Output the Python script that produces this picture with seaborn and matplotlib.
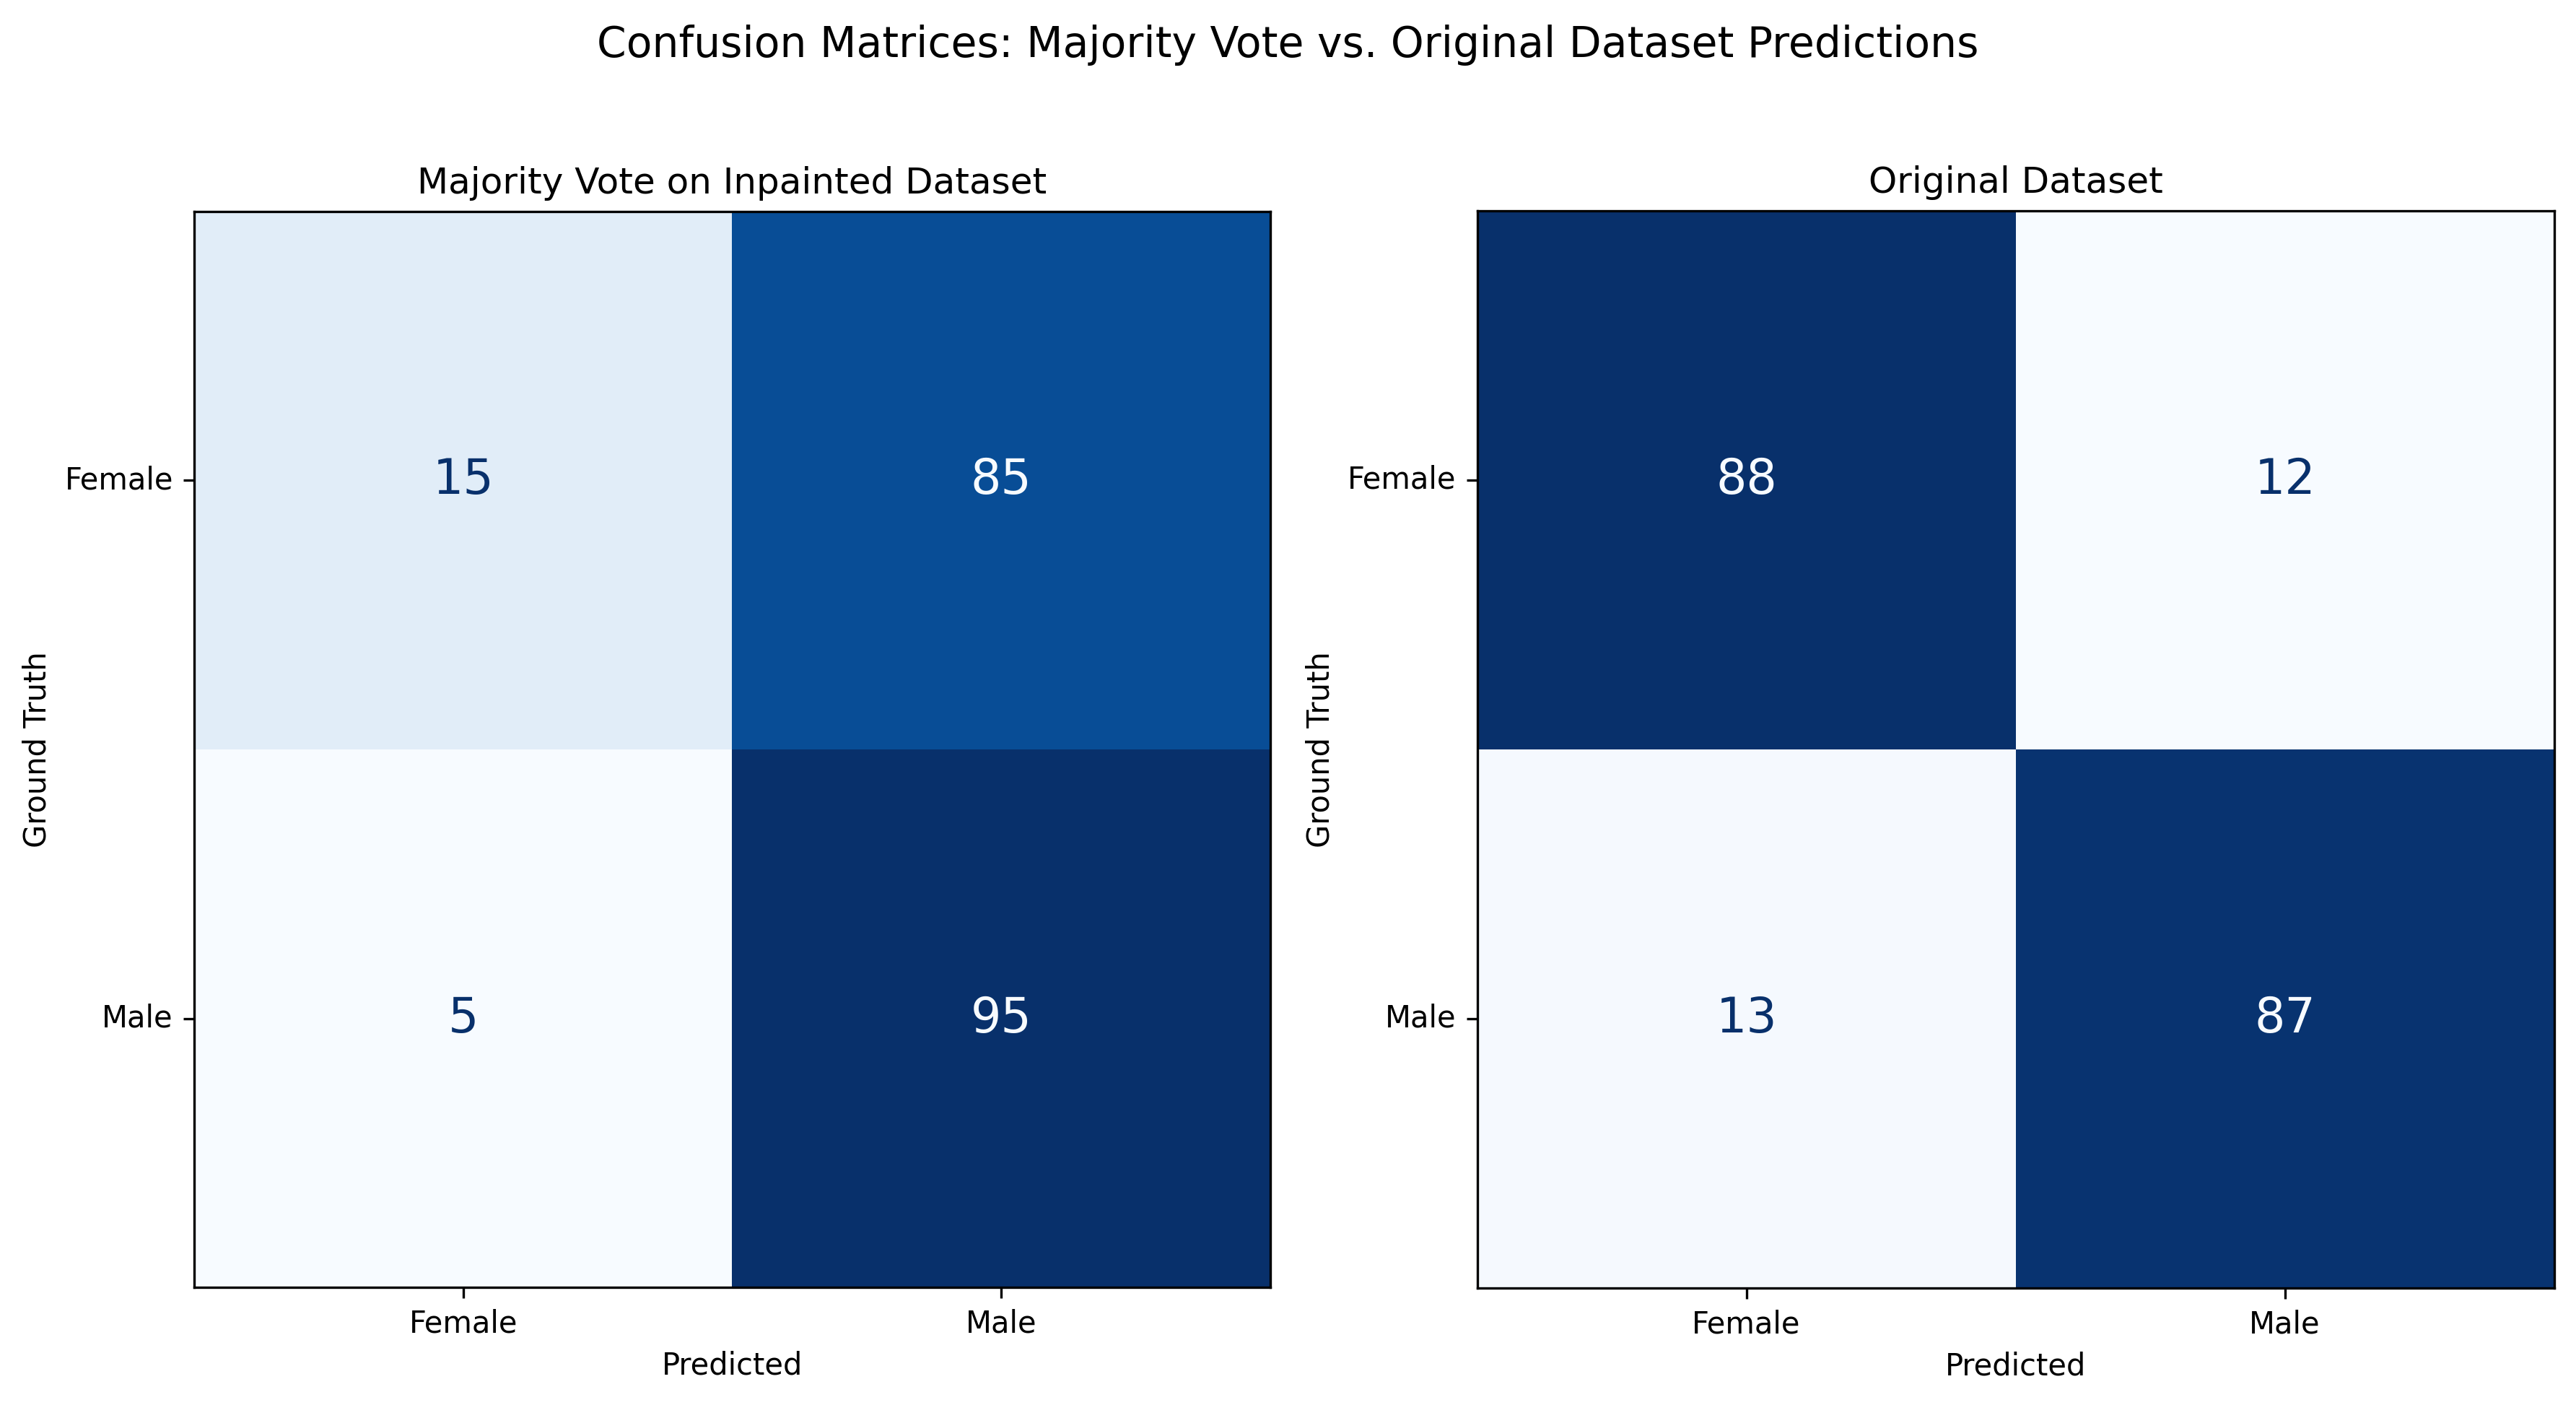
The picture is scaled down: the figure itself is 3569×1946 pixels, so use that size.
import numpy as np
import pandas as pd
import matplotlib
matplotlib.use("Agg")
import matplotlib.pyplot as plt
import seaborn as sns

# class labels and confusion matrix counts (rows = ground truth, cols = predicted)
labels = ["Female", "Male"]
inpainted_counts = [[15, 85],
                    [5, 95]]
original_counts = [[88, 12],
                   [13, 87]]
panel_titles = ["Majority Vote on Inpainted Dataset", "Original Dataset"]
suptitle = "Confusion Matrices: Majority Vote vs. Original Dataset Predictions"

cmap = plt.get_cmap("Blues")

fig = plt.figure(figsize=(3569 / 300, 1946 / 300), dpi=300)
ax_left = fig.add_axes([0.0754, 0.0833, 0.4176, 0.7667])
ax_right = fig.add_axes([0.5733, 0.0833, 0.4183, 0.7667])


def draw_matrix(ax, counts, title):
    df = pd.DataFrame(counts, index=labels, columns=labels)
    vals = df.values
    sns.heatmap(df, ax=ax, cmap="Blues", cbar=False, annot=True, fmt="d",
                square=True, linewidths=0, annot_kws={"fontsize": 16})
    # sklearn-style text colouring: dark text on light cells, light text on dark cells
    thresh = (vals.max() + vals.min()) / 2.0
    for txt, v in zip(ax.texts, vals.flatten()):
        txt.set_color(cmap(0.0) if v >= thresh else cmap(1.0))
    for side in ax.spines.values():
        side.set_visible(True)
        side.set_linewidth(0.8)
        side.set_color("black")
    ax.tick_params(axis="both", length=3.5, width=0.8, labelsize=10)
    ax.set_yticklabels(labels, rotation=0)
    ax.set_xticklabels(labels, rotation=0)
    ax.set_xlabel("Predicted", fontsize=10)
    ax.set_ylabel("Ground Truth", fontsize=10)
    ax.set_title(title, fontsize=12)


draw_matrix(ax_left, inpainted_counts, panel_titles[0])
draw_matrix(ax_right, original_counts, panel_titles[1])

fig.suptitle(suptitle, fontsize=14, y=0.968, va="center")
fig.savefig("out.png", dpi=300)
